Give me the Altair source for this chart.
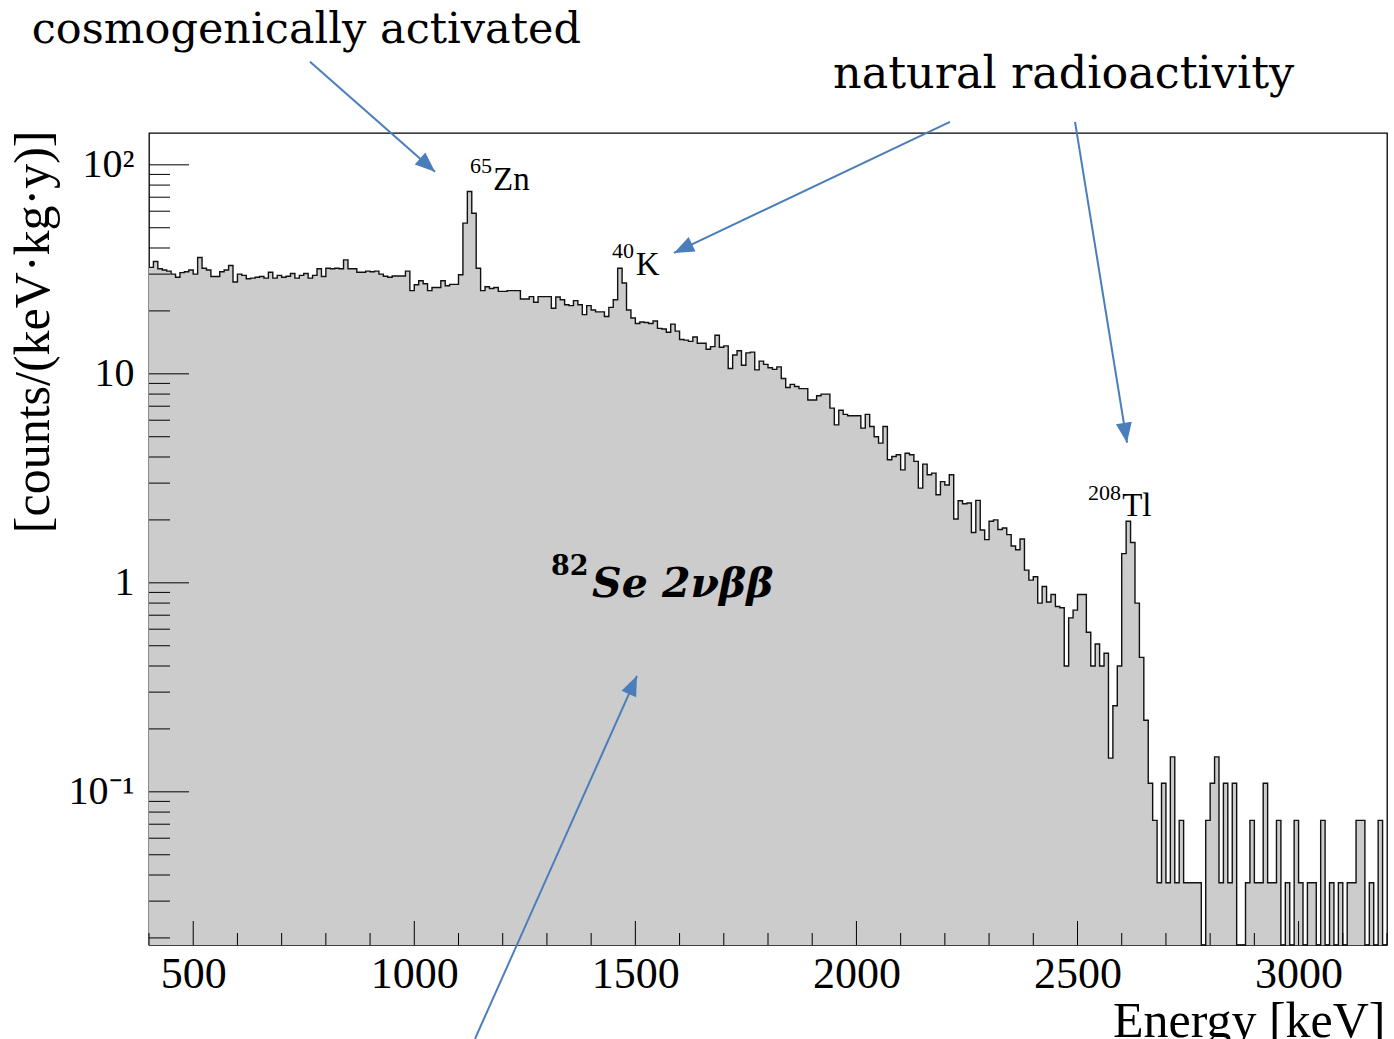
import altair as alt
import pandas as pd

# ---------------- data ----------------
# 10 keV bins from 400 keV to 3200 keV, rate in counts/(keV kg y)
bin_low = list(range(400, 3200, 10))
rate = [
    32.3, 34.5, 31.8, 31.4, 31.0, 30.0, 29.0, 30.5, 30.8, 31.4,
    30.0, 36.0, 32.0, 31.4, 29.2, 29.2, 30.8, 31.4, 33.0, 27.5,
    30.0, 29.6, 28.5, 28.7, 29.0, 29.2, 28.7, 30.6, 28.7, 29.6,
    29.0, 29.3, 30.2, 28.7, 29.6, 30.2, 28.7, 29.6, 31.8, 29.2,
    32.0, 31.8, 32.0, 31.8, 35.1, 31.8, 31.8, 30.6, 30.6, 31.0,
    30.8, 31.0, 30.0, 29.3, 29.0, 29.4, 29.4, 29.4, 31.0, 25.0,
    26.7, 27.9, 27.0, 25.0, 25.9, 25.9, 27.9, 26.4, 26.8, 26.8,
    29.8, 52.6, 74.5, 58.7, 32.0, 25.0, 26.1, 25.6, 25.9, 24.8,
    24.8, 25.0, 25.0, 25.0, 22.8, 22.8, 23.4, 22.0, 23.4, 23.4,
    23.4, 20.6, 23.3, 22.6, 21.4, 21.2, 22.4, 21.4, 19.2, 21.2,
    20.2, 19.8, 19.8, 18.8, 20.8, 22.6, 32.0, 27.2, 20.2, 18.5,
    17.4, 17.7, 17.6, 17.4, 17.9, 16.5, 16.4, 15.8, 17.3, 16.0,
    14.6, 14.5, 14.3, 15.0, 14.0, 14.0, 13.1, 13.5, 15.3, 13.4,
    13.6, 10.6, 12.3, 12.9, 11.0, 12.6, 12.7, 10.45, 11.5, 11.1,
    10.7, 10.5, 10.8, 9.5, 8.6, 8.9, 8.7, 8.5, 8.5, 7.5,
    7.5, 7.85, 8.0, 8.0, 6.85, 5.7, 6.7, 6.4, 6.3, 6.3,
    6.3, 5.5, 6.4, 5.6, 5.0, 4.66, 5.6, 3.88, 4.02, 4.10,
    3.47, 4.17, 4.10, 3.81, 2.84, 3.70, 3.29, 3.35, 2.64, 3.05,
    2.94, 3.29, 2.02, 2.47, 2.39, 2.41, 1.74, 2.48, 1.79, 1.61,
    1.97, 2.00, 1.80, 1.83, 1.70, 1.50, 1.44, 1.62, 1.15, 1.03,
    1.07, 0.80, 0.96, 0.81, 0.88, 0.77, 0.76, 0.40, 0.68, 0.74,
    0.88, 0.88, 0.58, 0.40, 0.51, 0.40, 0.46, 0.145, 0.258, 0.40,
    1.38, 1.97, 1.56, 0.80, 0.44, 0.22, 0.110, 0.073, 0.0367, 0.110,
    0.0367, 0.147, 0.0367, 0.073, 0.0367, 0.0367, 0.0367, 0.0367, 0, 0.073,
    0.110, 0.147, 0.0367, 0.110, 0.0367, 0.110, 0, 0, 0.0367, 0.073,
    0.0367, 0.0367, 0.110, 0.0367, 0.0367, 0.073, 0, 0.0367, 0, 0.073,
    0.0367, 0, 0.0367, 0.0367, 0, 0.073, 0, 0.0367, 0, 0.0367,
    0, 0.0367, 0.0367, 0.073, 0.073, 0, 0.0367, 0, 0.073, 0,
]

# axis tick values
x_major = [500, 1000, 1500, 2000, 2500, 3000]
x_minor = [v for v in range(400, 3201, 100) if v % 500 != 0]
y_major = [0.1, 1, 10, 100]
y_minor = [k * 10.0 ** p for p in (-2, -1, 0, 1) for k in range(2, 10)]

# isotope labels (superscript mass number + element)
iso_mass = ["65", "40", "208"]
iso_mass_e = [1126, 1447, 2524]
iso_mass_r = [91.6, 35.9, 2.495]
iso_elem = ["Zn", "K", "Tl"]
iso_elem_e = [1178, 1501, 2601]
iso_elem_r = [75.9, 29.8, 2.09]

# free annotations
note_text = ["cosmogenically activated", "natural radioactivity"]
note_e = [134.7, 1947]
note_r = [384.7, 233.6]

se_sup_text, se_sup_e, se_sup_r = ["82"], [1309], [1.092]
se_text, se_e, se_r = ["Se 2νββ"], [1402], [0.857]

# arrows (start -> tip)
arrow_e0 = [764.1, 2211.6, 2494.4, 1137.3]
arrow_r0 = [311.0, 160.6, 160.6, 0.00658]
arrow_e1 = [1046.9, 1587.4, 2612.0, 1503.7]
arrow_r1 = [92.6, 37.9, 4.68, 0.359]
arrow_ang = [131.4, 244.6, 170.8, 24.1]

# ---------------- chart ----------------
X_MIN, X_MAX = 400, 3200
Y_MIN, Y_MAX = 0.0185, 142
W, H = 1238, 812
BLUE = "#4a7ebb"
SERIF = "Liberation Serif, Times New Roman, serif"
WIDE_SERIF = "DejaVu Serif"

hist = pd.DataFrame({
    "e": bin_low + [X_MAX],
    "r": [max(v, Y_MIN) for v in rate] + [max(rate[-1], Y_MIN)],
})

xscale = alt.Scale(domain=[X_MIN, X_MAX], nice=False, zero=False)
yscale = alt.Scale(type="log", domain=[Y_MIN, Y_MAX], nice=False)

x_axis = alt.Axis(
    values=x_major, format="d", ticks=False, domain=False, grid=False,
    labelFont=SERIF, labelFontSize=44, labelColor="black", labelPadding=7,
    labelFlush=False, labelOverlap=False,
    title="Energy [keV]", titleFont=SERIF, titleFontSize=50,
    titleFontWeight="normal", titleColor="black", titleAlign="right",
    titleBaseline="alphabetic", titleX=W - 2, titleY=91,
)
y_axis = alt.Axis(
    values=y_major, ticks=False, domain=False, grid=False,
    labelExpr="datum.value > 50 ? '10²' : datum.value > 5 ? '10' : datum.value > 0.5 ? '1' : '10⁻¹'",
    labelFont=SERIF, labelFontSize=40, labelColor="black", labelPadding=15,
    labelFlush=False, labelOverlap=False,
    title="[counts/(keV·kg·y)]", titleFont=SERIF, titleFontSize=50,
    titleFontWeight="normal", titleColor="black", titleAngle=270,
    titleAlign="right", titleBaseline="alphabetic", titleX=-101, titleY=-3,
)

X = alt.X("e:Q", scale=xscale, axis=x_axis)
Y = alt.Y("r:Q", scale=yscale, axis=y_axis)

area = alt.Chart(hist).mark_area(interpolate="step-after", color="#cccccc").encode(
    x=X, y=Y, y2=alt.datum(Y_MIN)
)
line = alt.Chart(hist).mark_line(interpolate="step-after", color="#111111", strokeWidth=1.4).encode(
    x=X, y=Y
)

def xticks(vals, length):
    return alt.Chart(pd.DataFrame({"e": vals})).mark_rule(color="black", strokeWidth=1).encode(
        x=X, y=alt.value(H), y2=alt.value(H - length)
    )

def yticks(vals, length):
    return alt.Chart(pd.DataFrame({"r": vals})).mark_rule(color="black", strokeWidth=1).encode(
        y=Y, x=alt.value(0), x2=alt.value(length)
    )

def texts(t, e, r, **kw):
    return alt.Chart(pd.DataFrame({"e": e, "r": r, "t": t})).mark_text(
        align="left", baseline="alphabetic", color="black", **kw
    ).encode(x=X, y=Y, text="t:N")

iso_sup = texts(iso_mass, iso_mass_e, iso_mass_r, font=SERIF, fontSize=22)
iso_main = texts(iso_elem, iso_elem_e, iso_elem_r, font=SERIF, fontSize=33)
note1 = texts(note_text[:1], note_e[:1], note_r[:1], font=WIDE_SERIF, fontSize=43)
note2 = texts(note_text[1:], note_e[1:], note_r[1:], font=WIDE_SERIF, fontSize=44.5)
se_sup = texts(se_sup_text, se_sup_e, se_sup_r, font=WIDE_SERIF, fontSize=27, fontWeight="bold")
se_main = texts(se_text, se_e, se_r, font=WIDE_SERIF, fontSize=41, fontWeight="bold", fontStyle="italic")

arrows_df = pd.DataFrame({
    "e": arrow_e0, "r": arrow_r0, "e2": arrow_e1, "r2": arrow_r1,
})
arrow_lines = alt.Chart(arrows_df).mark_rule(color=BLUE, strokeWidth=2).encode(
    x=X, y=Y, x2="e2:Q", y2="r2:Q"
)
heads_df = pd.DataFrame({"e": arrow_e1, "r": arrow_r1, "ang": arrow_ang})
arrow_heads = alt.Chart(heads_df).mark_point(
    shape="M0,0L-0.8,2L0.8,2Z", filled=True, size=400, color=BLUE, opacity=1, strokeWidth=0
).encode(x=X, y=Y, angle=alt.Angle("ang:Q", scale=None))

chart = alt.layer(
    area, line,
    xticks(x_major, 24), xticks(x_minor, 12),
    yticks(y_major, 40), yticks(y_minor, 21),
    iso_sup, iso_main, se_sup, se_main, note1, note2,
    arrow_lines, arrow_heads,
).properties(
    width=W, height=H,
    autosize=alt.AutoSizeParams(type="none"),
    padding={"left": 149, "top": 133, "right": 7, "bottom": 94},
    background="white",
).configure_view(stroke="black", strokeWidth=1.3)

chart.save("out.html", embed_options={"renderer": "svg", "actions": False})
